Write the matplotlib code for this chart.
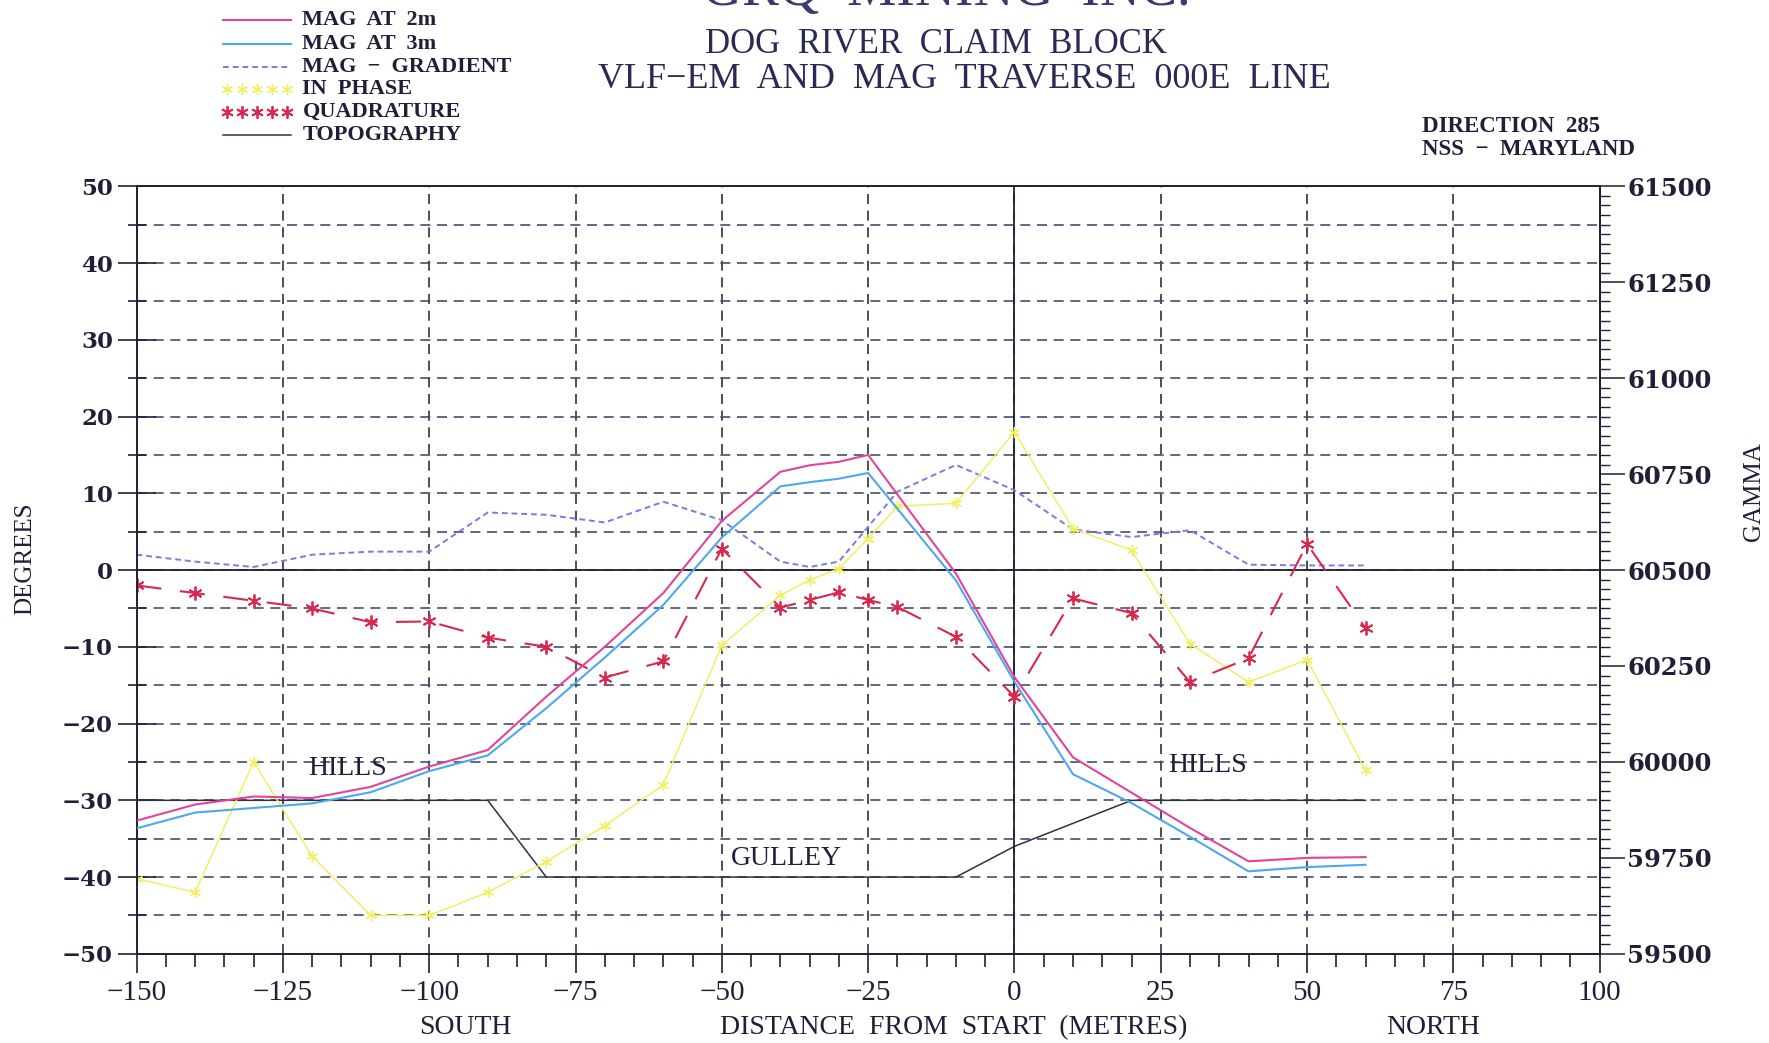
import numpy as np
import matplotlib.pyplot as plt
from matplotlib.lines import Line2D
from matplotlib.ticker import MultipleLocator

# distance along the traverse (m) for the magnetometer readings
mag_dist = [-150, -140, -130, -120, -110, -100, -90, -80, -70, -60, -50, -40,
            -35, -30, -25, -10, 0, 10, 20, 30, 40, 50, 60]
# total field, gamma (right axis)
mag_2m = [59847, 59889, 59910, 59906, 59935, 59988, 60031, 60170, 60300, 60440,
          60628, 60756, 60773, 60782, 60800, 60491, 60221, 60012, 59920, 59828,
          59741, 59750, 59752]
mag_3m = [59827, 59868, 59880, 59892, 59921, 59976, 60017, 60140, 60272, 60409,
          60585, 60718, 60729, 60738, 60753, 60473, 60209, 59968, 59893, 59805,
          59715, 59726, 59732]

# gradient, plotted against the left scale
grad_dist = [-150, -140, -130, -120, -110, -100, -90, -80, -70, -60, -50, -40,
             -35, -30, -20, -10, 0, 10, 20, 30, 40, 50, 60]
mag_gradient = [2.0, 1.1, 0.4, 2.0, 2.4, 2.4, 7.5, 7.2, 6.2, 8.9, 6.5, 1.1,
                0.4, 1.1, 10.2, 13.7, 10.4, 5.3, 4.3, 5.2, 0.7, 0.6, 0.6]

# VLF-EM (degrees)
vlf_dist = [-150, -140, -130, -120, -110, -100, -90, -80, -70, -60, -50, -40,
            -35, -30, -25, -20, -10, 0, 10, 20, 30, 40, 50, 60]
in_phase = [-40.2, -42.0, -25.0, -37.3, -45.0, -45.0, -42.0, -38.0, -33.3, -28.0,
            -9.8, -3.3, -1.3, 0.2, 4.1, 8.3, 8.7, 18.0, 5.4, 2.6, -9.6, -14.6,
            -11.7, -26.1]
quad_dist = [-150, -140, -130, -120, -110, -100, -90, -80, -70, -60, -50, -40,
             -35, -30, -25, -20, -10, 0, 10, 20, 30, 40, 50, 60]
quadrature = [-2.0, -3.0, -4.0, -5.0, -6.8, -6.7, -8.8, -10.0, -14.0, -11.9, 2.8,
              -4.9, -3.9, -2.9, -3.9, -4.8, -8.7, -16.5, -3.7, -5.6, -14.6, -11.5,
              3.4, -7.6]

# ground profile sketched on the degrees scale
topo_dist = [-150, -90, -80, -10, 0, 20, 60]
topography = [-30, -30, -40, -40, -36, -30, -30]

# terrain notes: (label, distance, level)
notes = [('HILLS', -114, -25.8), ('GULLEY', -39, -37.6), ('HILLS', 33, -25.5)]

ink = '#1f1f3a'
gridc = '#4a4a70'
c2m = '#e0449c'
c3m = '#4ea8ee'
cgrad = '#7a7ae0'
cin = '#f2ee66'
cquad = '#d8284e'
ctopo = '#303040'
serif = 'Liberation Serif'
star = (6, 2, 0)

fig = plt.figure(figsize=(17.69, 10.43), dpi=100)
ax = fig.add_axes([0.0772, 0.0855, 0.8271, 0.7359])
ax2 = ax.twinx()

ax.set_xlim(-150, 100)
ax.set_ylim(-50, 50)
ax2.set_ylim(59500, 61500)

# grid
ax.yaxis.set_major_locator(MultipleLocator(10))
ax.yaxis.set_minor_locator(MultipleLocator(5))
ax.xaxis.set_major_locator(MultipleLocator(25))
ax.xaxis.set_minor_locator(MultipleLocator(5))
ax.grid(True, which='both', axis='y', color=gridc, ls=(0, (6, 4)), lw=1.2)
ax.grid(True, which='major', axis='x', color=ctopo, ls=(0, (6, 4)), lw=1.2)
ax.axhline(0, color=ink, lw=1.3)
ax.axvline(0, color=ink, lw=1.3)

# data
ax.plot(topo_dist, topography, color=ctopo, lw=1.1)
ax.plot(grad_dist, mag_gradient, color=cgrad, lw=1.4, ls=(0, (3, 2)))
ax.plot(vlf_dist, in_phase, color=cin, lw=1.1, marker=star, ms=8, mew=1.0)
ax.plot(quad_dist, quadrature, color=cquad, lw=1.5, ls=(0, (12, 9)),
        marker=star, ms=10, mew=1.3)
ax2.plot(mag_dist, mag_2m, color=c2m, lw=1.5)
ax2.plot(mag_dist, mag_3m, color=c3m, lw=1.5)

for txt, xd, yd in notes:
    ax.text(xd, yd, txt, ha='center', va='center', fontsize=20,
            family=serif, color=ink)

# axes styling
for sp in ax.spines.values():
    sp.set_color(ink)
    sp.set_linewidth(1.4)
for sp in ax2.spines.values():
    sp.set_visible(False)

ax.tick_params(axis='y', which='major', direction='inout', length=28, width=1.2,
               color=ink, pad=3)
ax.tick_params(axis='y', which='minor', direction='inout', length=13, width=1.2,
               color=ink)
ax.tick_params(axis='x', which='major', direction='out', length=14, width=1.2,
               color=ink, pad=5)
ax.tick_params(axis='x', which='minor', direction='out', length=9, width=1.2,
               color=ink)

yt = np.arange(-50, 51, 10)
ax.set_yticks(yt, [str(v).replace('-', '\u2212') for v in yt],
              family='DejaVu Serif', weight='bold', fontsize=16.5, color=ink)
xt = np.arange(-150, 101, 25)
ax.set_xticks(xt, [str(v).replace('-', '\u2212') for v in xt],
              family=serif, fontsize=21, color=ink)

ax2.yaxis.set_major_locator(MultipleLocator(250))
ax2.yaxis.set_minor_locator(MultipleLocator(25))
ax2.tick_params(axis='y', which='major', direction='out', length=18, width=1.1,
                color=ink, pad=2)
ax2.tick_params(axis='y', which='minor', direction='out', length=7, width=1.0,
                color=ink)
gt = np.arange(59500, 61501, 250)
ax2.set_yticks(gt, [str(v) for v in gt], family='DejaVu Serif', weight='bold',
               fontsize=17.5, color=ink)
ax2.spines['right'].set_visible(True)
ax2.spines['right'].set_color(ink)
ax2.spines['right'].set_linewidth(1.4)

# axis titles
fig.text(0.014, 0.464, 'DEGREES', rotation=90, ha='center', va='center',
         fontsize=18, family=serif, color=ink)
fig.text(0.9917, 0.529, 'GAMMA', rotation=90, ha='center', va='center',
         fontsize=18, family=serif, color=ink)
fig.text(0.2628, 0.015, 'SOUTH', ha='center', va='center', fontsize=20,
         family=serif, color=ink)
fig.text(0.539, 0.015, 'DISTANCE  FROM  START  (METRES)', ha='center',
         va='center', fontsize=20, family=serif, color=ink)
fig.text(0.81, 0.015, 'NORTH', ha='center', va='center', fontsize=20,
         family=serif, color=ink)

# headings (top line runs off the sheet, as on the original)
fig.text(0.535, 0.9948, 'GRQ  MINING  INC.', ha='center', va='baseline',
         fontsize=40, family=serif, color='#3a3a70')
fig.text(0.529, 0.957, 'DOG  RIVER  CLAIM  BLOCK', ha='center', va='center',
         fontsize=25, family=serif, color='#2a2a55')
fig.text(0.545, 0.924, 'VLF\u2212EM  AND  MAG  TRAVERSE  000E  LINE', ha='center',
         va='center', fontsize=26, family=serif, color='#2a2a55')
fig.text(0.8036, 0.879, 'DIRECTION  285', ha='left', va='center', fontsize=16.5,
         family=serif, weight='bold', color=ink)
fig.text(0.8036, 0.857, 'NSS  \u2212  MARYLAND', ha='left', va='center',
         fontsize=16.5, family=serif, weight='bold', color=ink)

# key
key = [('MAG  AT  2m', dict(color=c2m, lw=1.5)),
       ('MAG  AT  3m', dict(color=c3m, lw=1.5)),
       ('MAG  \u2212  GRADIENT', dict(color=cgrad, lw=1.4, ls=(0, (3, 2)))),
       ('IN  PHASE', dict(color=cin, ls='none', marker=star, ms=8, mew=1.0)),
       ('QUADRATURE', dict(color=cquad, ls='none', marker=star, ms=9, mew=1.3)),
       ('TOPOGRAPHY', dict(color=ctopo, lw=1.1))]
key_y = 1 - np.array([18, 39, 59, 79, 99, 120]) / 924
for (lab, style), ky in zip(key, key_y):
    if style.get('ls') == 'none':
        kx = np.linspace(0.1285, 0.1625, 5)
    else:
        kx = np.array([0.1263, 0.1645])
    fig.add_artist(Line2D(kx, np.full(len(kx), ky), transform=fig.transFigure,
                          **style))
    fig.text(0.171, ky, lab, ha='left', va='center', fontsize=16,
             family=serif, weight='bold', color=ink)

fig.savefig('out.png', dpi=100, facecolor='white')
